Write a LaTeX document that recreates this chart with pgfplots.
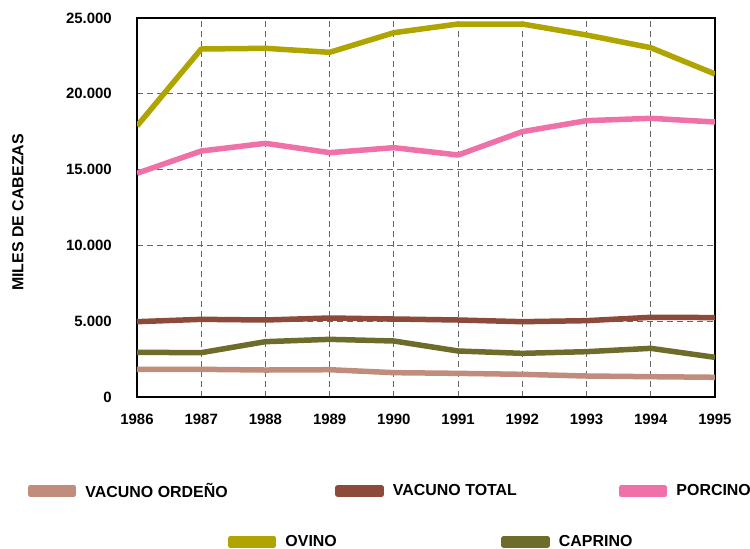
\documentclass[border=0pt]{standalone}
\usepackage{pgfplots}
\pgfplotsset{compat=1.18}
\usepackage{fontspec}
\setmainfont{Liberation Sans}
\definecolor{cOrd}{RGB}{192,140,124}
\definecolor{cTot}{RGB}{140,74,58}
\definecolor{cPor}{RGB}{240,112,168}
\definecolor{cOvi}{RGB}{176,164,0}
\definecolor{cCap}{RGB}{110,108,42}
\pgfplotsset{
  base/.style={
    scale only axis, width=578bp, height=379bp,
    xmin=1986, xmax=1995, ymin=0, ymax=25000,
    legend columns=3,
    legend image code/.code={\draw[##1, line width=7bp, line cap=round, dash pattern=] (3.5bp,0bp) -- (39.5bp,0bp); \path (0bp,-3.5bp) rectangle (43bp,3.5bp);},
    legend style={draw=none, fill=none, inner sep=0pt, outer sep=0pt, anchor=west,
      nodes={inner sep=0pt, outer sep=0pt, font=\fontsize{16}{16}\selectfont\bfseries},
      /tikz/every odd column/.append style={column sep=9bp},
      /tikz/every even column/.append style={column sep=0bp}},
  }
}
\begin{document}
\begin{tikzpicture}
\begin{axis}[base, at={(0,0)}, anchor=south west,
  axis line style={black, line width=1.5bp},
  xtick={1986,...,1995}, ytick={0,5000,...,25000},
  major tick length=0pt,
  grid=major,
  major grid style={gray!80!black, line width=0.9bp, dash pattern=on 6bp off 4bp},
  /pgf/number format/assume math mode=true,
  ticklabel style={font=\fontsize{15}{15}\selectfont\bfseries},
  yticklabel style={/pgf/number format/1000 sep={.}, inner sep=0pt, anchor=east, xshift=-25bp},
  xticklabel style={/pgf/number format/1000 sep={}, inner sep=0pt, anchor=north, yshift=-17bp},
  scaled y ticks=false,
  ylabel={MILES DE CABEZAS},
  ylabel style={font=\fontsize{16}{16}\selectfont\bfseries, at={(axis description cs:-0.206,0.487)}, anchor=center},
  legend style={at={(axis description cs:-0.1886,-0.248)}},
  every axis plot/.append style={line width=5.5bp, line join=round},
]
\addplot[cOrd] coordinates {(1986,1825) (1987,1825) (1988,1780) (1989,1800) (1990,1605) (1991,1560) (1992,1495) (1993,1385) (1994,1340) (1995,1300)};
\addlegendentry{\makebox[250bp][l]{VACUNO ORDEÑO}}
\addplot[cTot] coordinates {(1986,4968) (1987,5123) (1988,5079) (1989,5211) (1990,5145) (1991,5079) (1992,4968) (1993,5035) (1994,5256) (1995,5240)};
\addlegendentry{\makebox[226bp][l]{VACUNO TOTAL}}
\addplot[cPor] coordinates {(1986,14755) (1987,16227) (1988,16733) (1989,16117) (1990,16447) (1991,15963) (1992,17502) (1993,18227) (1994,18382) (1995,18140)};
\addlegendentry{PORCINO}
\end{axis}
\begin{axis}[base, at={(0,0)}, anchor=south west, hide axis,
  legend style={at={(axis description cs:0.1574,-0.382)}},
  every axis plot/.append style={line width=5.5bp, line join=round},
]
\addplot[cOvi] coordinates {(1986,17876) (1987,22955) (1988,23000) (1989,22736) (1990,24030) (1991,24604) (1992,24604) (1993,23879) (1994,23042) (1995,21306)};
\addlegendentry{\makebox[216bp][l]{OVINO}}
\addplot[cCap] coordinates {(1986,2946) (1987,2925) (1988,3650) (1989,3804) (1990,3694) (1991,3034) (1992,2880) (1993,2990) (1994,3210) (1995,2617)};
\addlegendentry{CAPRINO}
\end{axis}
\pgfresetboundingbox
\path[use as bounding box] (-137bp,-152bp) rectangle (613bp,397bp);
\end{tikzpicture}
\end{document}
